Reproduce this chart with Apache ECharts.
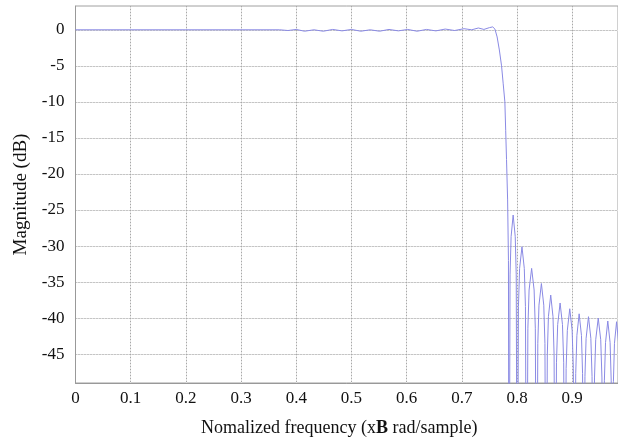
<!DOCTYPE html>
<html>
<head>
<meta charset="utf-8">
<script src="https://cdn.jsdelivr.net/npm/echarts@6/dist/echarts.min.js"></script>
<style>
html,body{margin:0;padding:0;background:#fff;}
#chart{width:618px;height:440px;}
</style>
</head>
<body>
<div id="chart"></div>
<script>
// Tick labels
var xTicks = [0, 0.1, 0.2, 0.3, 0.4, 0.5, 0.6, 0.7, 0.8, 0.9];
var yTicks = [0, -5, -10, -15, -20, -25, -30, -35, -40, -45];

// Passband + transition (normalized frequency, dB)
var passFreq = [0, 0.1, 0.2, 0.3, 0.37, 0.385, 0.400, 0.415, 0.432, 0.449, 0.466, 0.483, 0.500, 0.517, 0.534, 0.551, 0.568, 0.585, 0.602, 0.619, 0.636, 0.653, 0.670, 0.687, 0.704, 0.718, 0.730, 0.740, 0.750, 0.756, 0.760, 0.764, 0.768, 0.772, 0.775, 0.778, 0.7795, 0.781, 0.783, 0.7845, 0.7855];
var passMag  = [0, 0, 0, 0, 0, -0.1, 0.05, -0.2, 0.0, -0.2, 0.05, -0.15, 0.05, -0.2, 0.0, -0.2, 0.05, -0.15, 0.05, -0.2, 0.05, -0.15, 0.1, -0.1, 0.15, 0.0, 0.25, 0.05, 0.3, 0.4, 0.1, -1.0, -2.8, -5.0, -7.5, -10.0, -14.0, -18.0, -23.6, -32, -80];

// Stopband sidelobes
var stopFreq = [
  0.7874, 0.7893, 0.7930, 0.7968, 0.7986, 0.8005,
  0.8026, 0.8047, 0.8090, 0.8132, 0.8153, 0.8174,
  0.8197, 0.8219, 0.8265, 0.8310, 0.8332, 0.8355,
  0.8377, 0.8398, 0.8442, 0.8485, 0.8506, 0.8528,
  0.8549, 0.8569, 0.8611, 0.8652, 0.8672, 0.8693,
  0.8715, 0.8737, 0.8781, 0.8824, 0.8846, 0.8868,
  0.8890, 0.8912, 0.8956, 0.8999, 0.9021, 0.9043,
  0.9064, 0.9085, 0.9126, 0.9168, 0.9188, 0.9209,
  0.9231, 0.9252, 0.9295, 0.9338, 0.9360, 0.9381,
  0.9404, 0.9426, 0.9472, 0.9517, 0.9539, 0.9562,
  0.9583, 0.9604, 0.9645, 0.9687, 0.9707, 0.9728,
  0.9747, 0.9766, 0.9804, 0.9842, 0.9861, 0.9880
];
var stopMag = [
  -34.0, -28.7, -25.7, -28.7, -34.0, -80,
  -38.4, -33.1, -30.1, -33.1, -38.4, -80,
  -41.4, -36.1, -33.1, -36.1, -41.4, -80,
  -43.5, -38.2, -35.2, -38.2, -43.5, -80,
  -45.1, -39.8, -36.8, -39.8, -45.1, -80,
  -46.2, -40.9, -37.9, -40.9, -46.2, -80,
  -47.0, -41.7, -38.7, -41.7, -47.0, -80,
  -47.7, -42.4, -39.4, -42.4, -47.7, -80,
  -48.1, -42.8, -39.8, -42.8, -48.1, -80,
  -48.3, -43.0, -40.0, -43.0, -48.3, -80,
  -48.7, -43.4, -40.4, -43.4, -48.7, -80,
  -48.8, -43.5, -40.5, -43.5, -48.8, -80
];

var freq = passFreq.concat(stopFreq);
var mag = passMag.concat(stopMag);
var data = freq.map(function (f, i) { return [f, mag[i]]; });

var font = 'Liberation Serif';
var X_MIN = 0, X_MAX = 0.983, Y_MIN = -49, Y_MAX = 3.3;
var chart = echarts.init(document.getElementById('chart'), null, {renderer: 'canvas'});
chart.setOption({
  animation: false,
  backgroundColor: '#fff',
  grid: {left: 75.5, top: 6, right: 0, bottom: 57, containLabel: false, outerBoundsMode: 'none',
    show: true, borderColor: '#a0a0a0', borderWidth: 1, backgroundColor: '#fff'},
  xAxis: [{
    type: 'value', min: X_MIN, max: X_MAX,
    name: 'Nomalized frequency (x{b|B} rad/sample)',
    nameLocation: 'middle', nameGap: 36,
    nameTextStyle: {fontFamily: font, fontSize: 18, color: '#111', padding: [0, 15, 0, 0],
      rich: {b: {fontFamily: font, fontSize: 18, fontWeight: 'bold', color: '#111'}}},
    axisLine: {show: true, onZero: false, lineStyle: {color: '#999', width: 1}},
    axisTick: {show: false, customValues: xTicks},
    axisLabel: {customValues: xTicks, fontFamily: font, fontSize: 17, color: '#111', margin: 7},
    splitLine: {show: true, lineStyle: {color: '#a8a8a8', type: [1, 2], width: 1}},
    z: 3
  }, {
    type: 'value', min: X_MIN, max: X_MAX, position: 'bottom',
    axisLine: {show: false}, axisTick: {show: false, customValues: xTicks},
    axisLabel: {show: false, customValues: xTicks},
    splitLine: {show: true, lineStyle: {color: '#e2e2e2', type: 'solid', width: 1}},
    z: 1
  }],
  yAxis: [{
    type: 'value', min: Y_MIN, max: Y_MAX,
    name: 'Magnitude (dB)', nameLocation: 'middle', nameGap: 45, nameRotate: 90,
    nameTextStyle: {fontFamily: font, fontSize: 19, color: '#111'},
    axisLine: {show: true, onZero: false, lineStyle: {color: '#999', width: 1}},
    axisTick: {show: false, customValues: yTicks},
    axisLabel: {customValues: yTicks, fontFamily: font, fontSize: 17, color: '#111', margin: 11},
    splitLine: {show: true, lineStyle: {color: '#a8a8a8', type: [1, 2], width: 1}},
    z: 3
  }, {
    type: 'value', min: Y_MIN, max: Y_MAX, position: 'left',
    axisLine: {show: false}, axisTick: {show: false, customValues: yTicks},
    axisLabel: {show: false, customValues: yTicks},
    splitLine: {show: true, lineStyle: {color: '#e2e2e2', type: 'solid', width: 1}},
    z: 1
  }],
  series: [{
    type: 'line', data: data, showSymbol: false, clip: true, z: 5,
    xAxisIndex: 0, yAxisIndex: 0,
    lineStyle: {color: '#8a8ae4', width: 1}
  }]
});
</script>
</body>
</html>
